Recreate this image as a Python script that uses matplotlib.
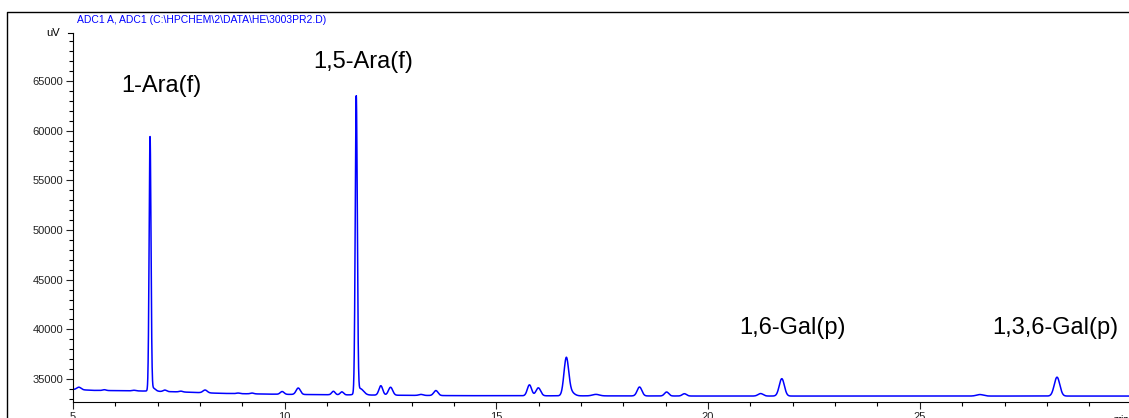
import matplotlib
matplotlib.use("Agg")
import matplotlib.pyplot as plt
import numpy as np
from matplotlib.ticker import MultipleLocator

plt.rcParams["font.family"] = ["Liberation Sans", "DejaVu Sans"]

# peak table: retention time (min), height above baseline (uV), width (sigma, min)
peak_rt = [5.14, 5.74, 6.44, 6.82, 6.88, 7.17, 7.55, 8.12, 8.90, 9.23, 9.94, 10.32,
           11.15, 11.35, 11.69, 11.78, 12.27, 12.50, 13.22, 13.57, 15.78, 15.99,
           16.65, 16.75, 17.35, 18.38, 19.02, 19.44, 21.24, 21.74, 26.42, 28.24]
peak_height = [250, 80, 60, 25450, 350, 150, 80, 280, 60, 80, 280, 650,
               350, 300, 29800, 650, 950, 800, 100, 500, 1100, 800,
               3700, 400, 150, 900, 400, 230, 250, 1750, 150, 1900]
peak_sigma = [0.05, 0.04, 0.04, 0.022, 0.06, 0.04, 0.04, 0.05, 0.04, 0.04, 0.045, 0.05,
              0.04, 0.04, 0.024, 0.08, 0.045, 0.05, 0.05, 0.05, 0.05, 0.055,
              0.055, 0.08, 0.08, 0.055, 0.05, 0.05, 0.06, 0.06, 0.08, 0.065]

# baseline drift
base_t = [5, 5.5, 6.5, 7.5, 8.5, 10, 12, 14, 17, 20, 25, 29.94]
base_v = [33950, 33850, 33800, 33700, 33550, 33450, 33380, 33320, 33300, 33280, 33280, 33280]

labels = ["1-Ara(f)", "1,5-Ara(f)", "1,6-Gal(p)", "1,3,6-Gal(p)"]
label_x = [6.14, 10.68, 20.73, 26.71]
label_y = [64500, 66900, 40150, 40150]

t = np.linspace(5, 29.94, 16000)
signal = np.interp(t, base_t, base_v)
for rt, h, s in zip(peak_rt, peak_height, peak_sigma):
    signal = signal + h * np.exp(-0.5 * ((t - rt) / s) ** 2)

fig = plt.figure(figsize=(11.29, 4.18), dpi=100)
ax = fig.add_axes([73 / 1129, 1 - 402 / 418, 1 - 73 / 1129, (402 - 33) / 418])

ax.plot(t, signal, color="#0000ff", linewidth=1.1)
ax.set_xlim(5, 29.94)
ax.set_ylim(32680, 69850)

ax.xaxis.set_major_locator(MultipleLocator(5))
ax.xaxis.set_minor_locator(MultipleLocator(1))
ax.yaxis.set_major_locator(MultipleLocator(5000))
ax.yaxis.set_minor_locator(MultipleLocator(1000))
ax.tick_params(which="major", length=5, width=0.8, labelsize=8, pad=2, colors="#222222")
ax.tick_params(which="minor", length=3, width=0.8)

ax.spines["top"].set_visible(False)
ax.spines["right"].set_visible(False)

for txt, x, y in zip(labels, label_x, label_y):
    ax.text(x, y, txt, fontsize=17, ha="left", va="center", color="black")

ax.text(-0.012, 1.0, "uV", transform=ax.transAxes, fontsize=8, ha="right", va="center")
ax.plot([-0.005, 0], [1.0, 1.0], transform=ax.transAxes, color="black", lw=0.8, clip_on=False)
ax.text(1.0, -0.035, "min", transform=ax.transAxes, fontsize=7, ha="right", va="top")

fig.text(77 / 1129, 1 - 20 / 418, r"ADC1 A, ADC1 (C:\HPCHEM\2\DATA\HE\3003PR2.D)",
         fontsize=7.5, color="#0000ff", ha="left", va="center")

# outer frame
fig.add_artist(plt.Line2D([7 / 1129, 7 / 1129, 1.0], [0, 1 - 12 / 418, 1 - 12 / 418],
                          transform=fig.transFigure, color="black", lw=1.0))

fig.savefig("out.png", dpi=100)
plt.close(fig)
